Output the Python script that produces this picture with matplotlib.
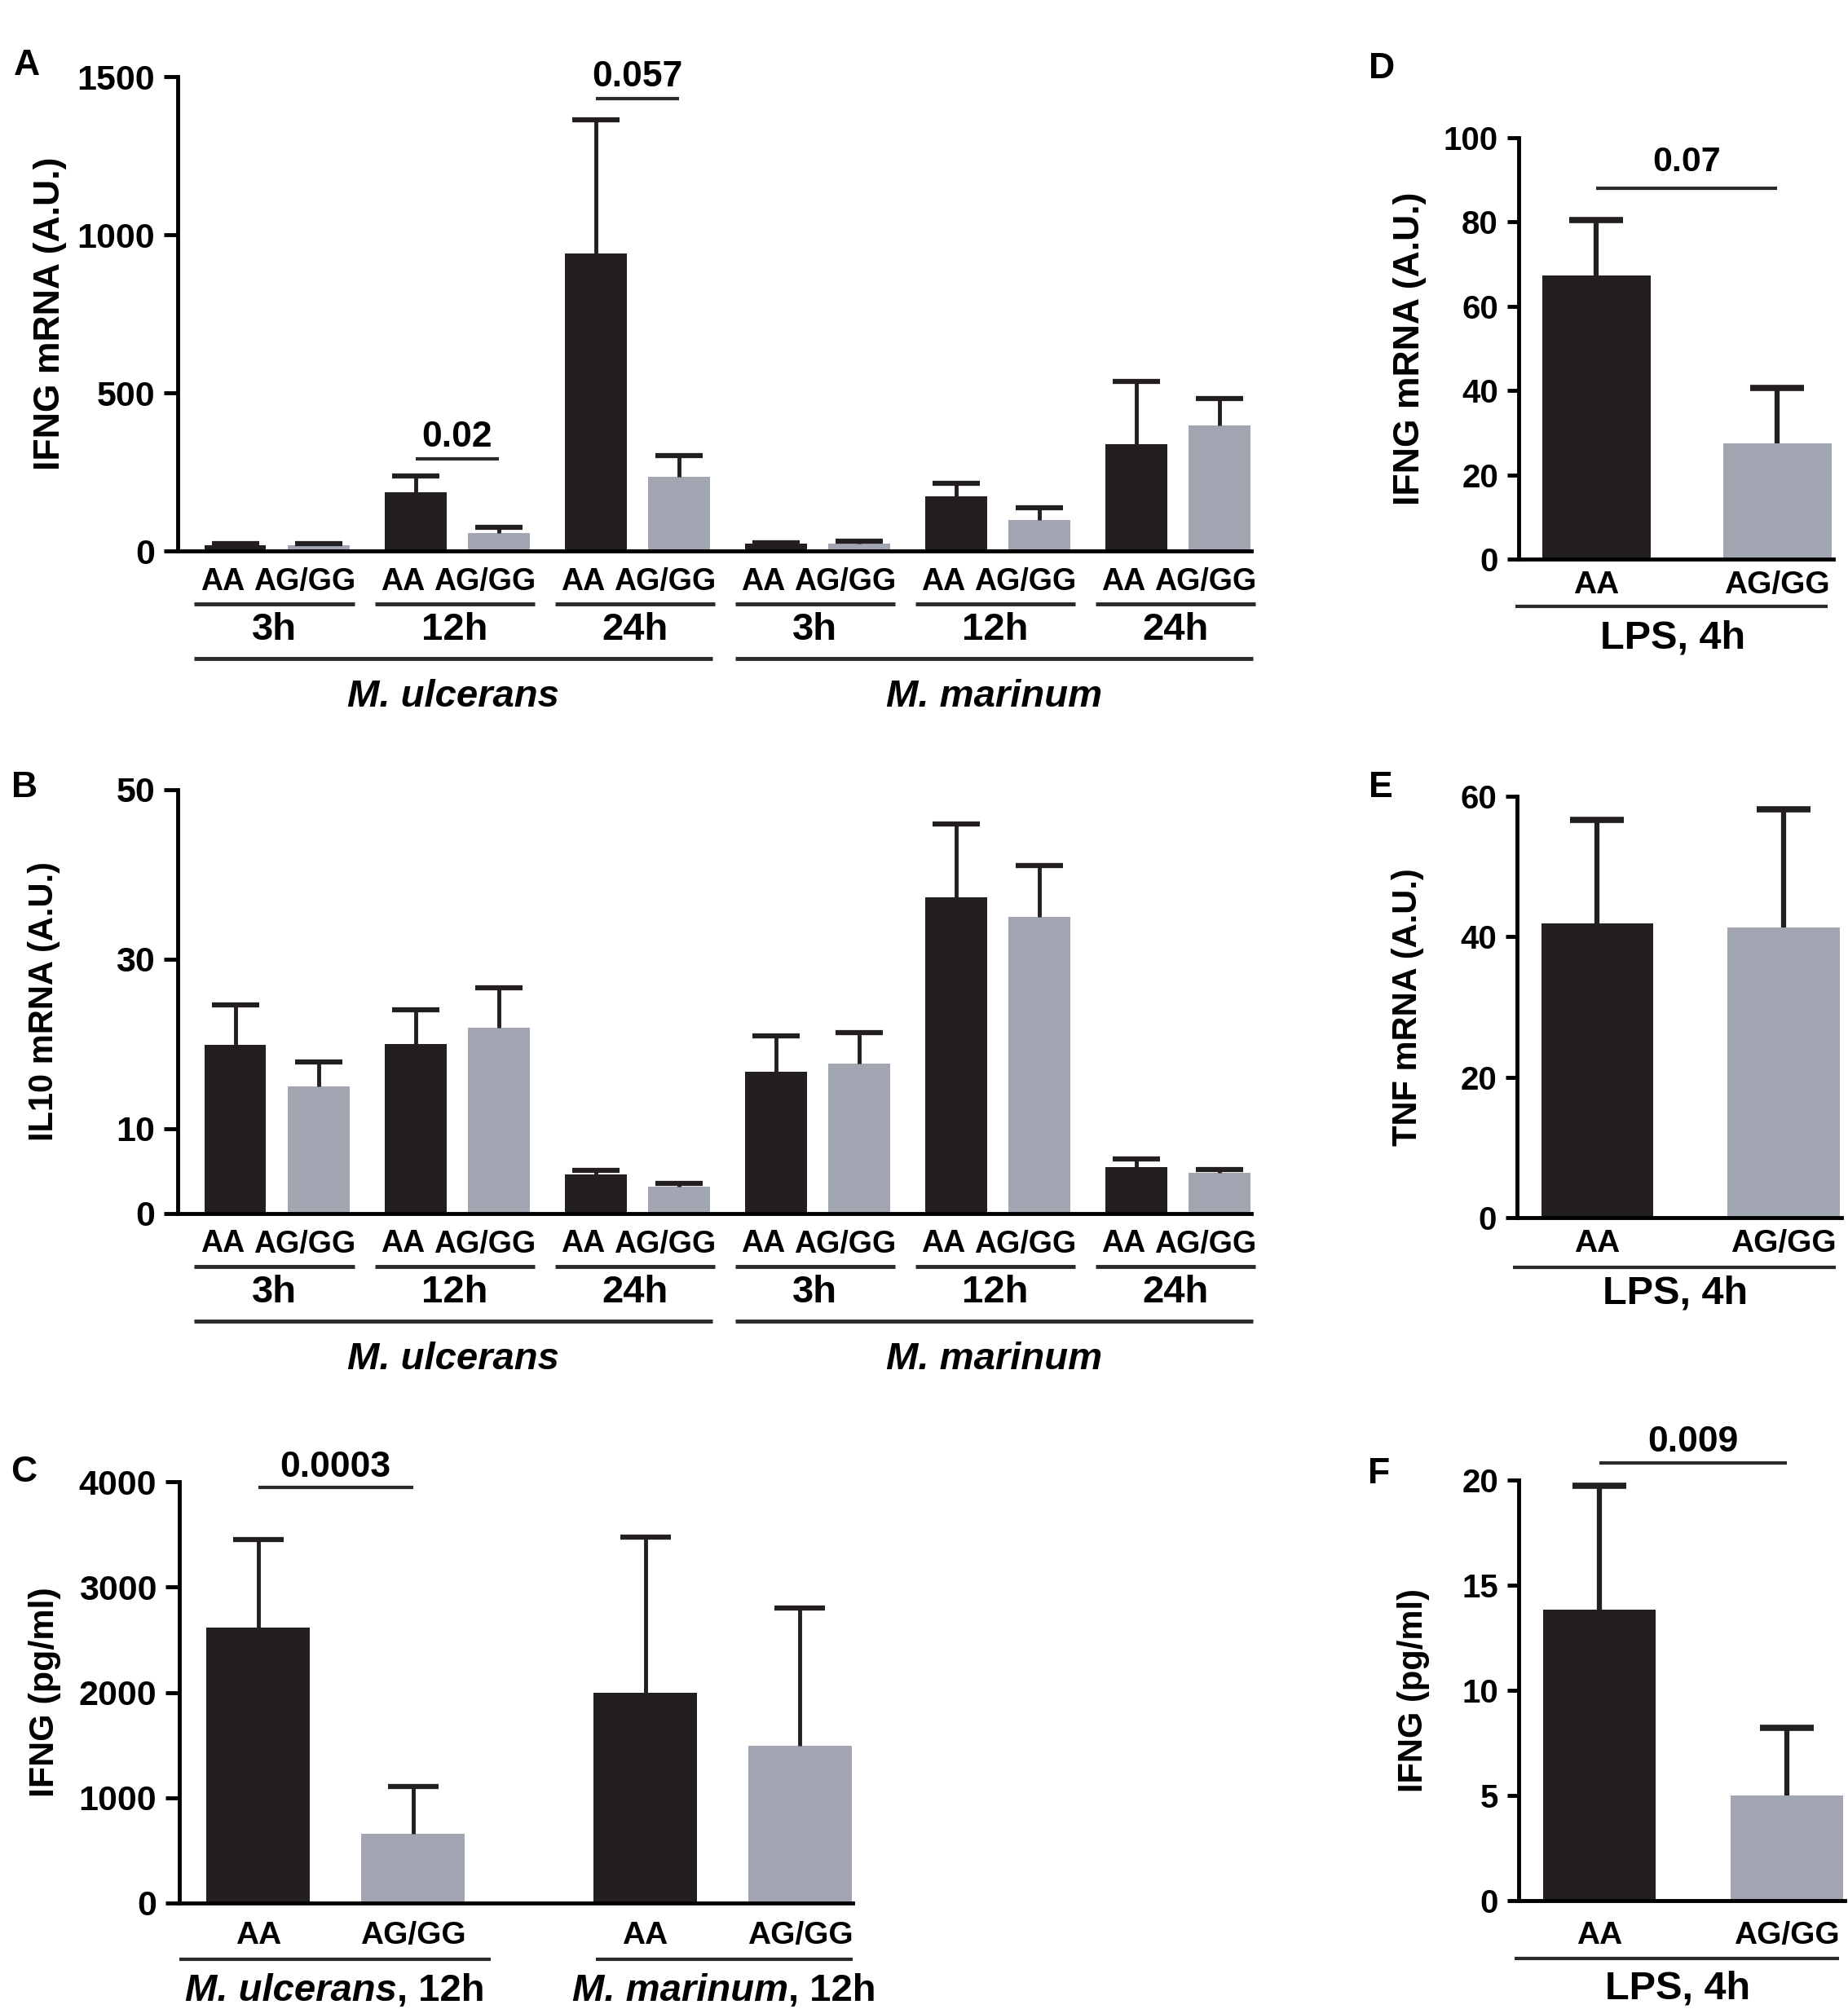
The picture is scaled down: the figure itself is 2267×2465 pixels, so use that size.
import matplotlib
matplotlib.use('Agg')
import matplotlib.pyplot as plt
from matplotlib import font_manager
from matplotlib.transforms import offset_copy
from matplotlib.offsetbox import TextArea, HPacker, AnnotationBbox


def has_font(name):
    try:
        font_manager.findfont(name, fallback_to_default=False)
        return True
    except ValueError:
        return False


FONT = 'Liberation Sans' if has_font('Liberation Sans') else 'DejaVu Sans'
plt.rcParams['font.family'] = [FONT, 'DejaVu Sans']
plt.rcParams['font.weight'] = 'bold'
plt.rcParams['axes.linewidth'] = 3.5

BLACK = '#231f20'
GRAY = '#a1a6b2'
LINE = '#2a2a2a'

# ---- data ----
genotypes = ['AA', 'AG/GG']
times = ['3h', '12h', '24h']
species = ['M. ulcerans', 'M. marinum']

# A: IFNG mRNA (A.U.), order Mu 3h/12h/24h then Mm 3h/12h/24h
ifng_mrna_aa = [19, 186, 942, 24, 173, 338]
ifng_mrna_aa_err = [3, 52, 421, 3, 41, 198]
ifng_mrna_ag = [19, 56, 235, 24, 98, 396]
ifng_mrna_ag_err = [3, 20, 67, 6, 39, 85]

# B: IL10 mRNA (A.U.)
il10_aa = [19.9, 20.0, 4.6, 16.7, 37.3, 5.5]
il10_aa_err = [4.7, 4.0, 0.5, 4.3, 8.7, 0.9]
il10_ag = [15.0, 21.9, 3.2, 17.7, 35.0, 4.8]
il10_ag_err = [2.9, 4.75, 0.4, 3.6, 6.1, 0.4]

# C: IFNG (pg/ml), 12h
c_groups = ['M. ulcerans', 'M. marinum']
ifng_prot_aa = [2616, 1998]
ifng_prot_aa_err = [834, 1479]
ifng_prot_ag = [656, 1490]
ifng_prot_ag_err = [451, 1308]

# D/E/F: LPS, 4h  (AA, AG/GG)
lps_ifng_mrna = [67.3, 27.5]
lps_ifng_mrna_err = [13.2, 13.2]
lps_tnf_mrna = [41.9, 41.35]
lps_tnf_mrna_err = [14.7, 16.85]
lps_ifng_prot = [13.85, 4.99]
lps_ifng_prot_err = [5.88, 3.23]

# p-values: (label, y of bar, group index in M. ulcerans)
p_a = [('0.02', 291, 1), ('0.057', 1430, 2)]
p_c = ('0.0003', 3946)
p_d = ('0.07', 88)
p_f = ('0.009', 20.8)

# ---- figure ----
W, H = 2267.0, 2465.0
fig = plt.figure(figsize=(W / 100, H / 100), dpi=100)


def make_axes(l, r, top, bot):
    ax = fig.add_axes([l / W, 1 - bot / H, (r - l) / W, (bot - top) / H])
    ax.spines['top'].set_visible(False)
    ax.spines['right'].set_visible(False)
    ax.tick_params(axis='x', length=0, labelbottom=False)
    ax.tick_params(axis='y', length=12, width=3.5, pad=8, labelsize=31)
    return ax


def below(ax, pts):
    return offset_copy(ax.get_xaxis_transform(), fig=fig, y=-pts, units='points')


def bars(ax, x, vals, errs, color, width, cap, elw, cth):
    ax.bar(x, vals, width, color=color, zorder=2)
    eb = ax.errorbar(x, vals, yerr=[[0] * len(vals), errs], fmt='none', ecolor=BLACK,
                     elinewidth=elw, capsize=cap, capthick=cth, zorder=3)
    # only the upper cap, like Prism
    eb[1][0].set_visible(False)


def sig(ax, x0, x1, y, label, gap, size=32):
    ax.plot([x0, x1], [y, y], color=LINE, lw=3, clip_on=False, solid_capstyle='butt')
    ax.annotate(label, ((x0 + x1) / 2, y), xytext=(0, gap), textcoords='offset points',
                ha='center', va='baseline', fontsize=size, fontweight='bold',
                annotation_clip=False)


def uline(ax, x0, x1, pts, lw=3.5):
    ax.plot([x0, x1], [0, 0], color=LINE, lw=lw, transform=below(ax, pts),
            clip_on=False, solid_capstyle='butt')


def grouped_panel(ax, aa, aa_err, ag, ag_err):
    step = 2.16
    xa = [g * step for g in range(6)]
    xg = [g * step + 1 for g in range(6)]
    bars(ax, xa, aa, aa_err, BLACK, 0.74, 21, 3.5, 4.5)
    bars(ax, xg, ag, ag_err, GRAY, 0.74, 21, 3.5, 4.5)
    ax.set_xlim(-0.69, 12.18)
    for g in range(6):
        ax.text(xa[g] - 0.15, 0, genotypes[0], transform=below(ax, 27), ha='center',
                va='center', fontsize=27)
        ax.text(xg[g] - 0.17, 0, genotypes[1], transform=below(ax, 27), ha='center',
                va='center', fontsize=27)
        uline(ax, xa[g] - 0.49, xg[g] + 0.43, 47)
        ax.text((xa[g] + xg[g]) / 2 - 0.03, 0, times[g % 3], transform=below(ax, 70),
                ha='center', va='center', fontsize=34)
    for s in range(2):
        x0 = xa[3 * s] - 0.49
        x1 = xg[3 * s + 2] + 0.4
        uline(ax, x0, x1, 95)
        ax.text((x0 + x1) / 2, 0, species[s], transform=below(ax, 129), ha='center',
                va='center', fontsize=34, fontstyle='italic')
    return xa, xg


# ---- A ----
axA = make_axes(218, 1535, 94, 676)
xa, xg = grouped_panel(axA, ifng_mrna_aa, ifng_mrna_aa_err, ifng_mrna_ag, ifng_mrna_ag_err)
axA.set_ylim(0, 1500)
axA.set_yticks([0, 500, 1000, 1500])
for label, y, g in p_a:
    sig(axA, xa[g], xg[g], y, label, 11)

# ---- B ----
axB = make_axes(218, 1535, 969, 1489)
grouped_panel(axB, il10_aa, il10_aa_err, il10_ag, il10_ag_err)
axB.set_ylim(0, 50)
axB.set_yticks([0, 10, 30, 50])

# ---- C ----
axC = make_axes(220, 1046, 1818, 2335)
xc_aa = [0, 2.5]
xc_ag = [1, 3.5]
bars(axC, xc_aa, ifng_prot_aa, ifng_prot_aa_err, BLACK, 0.67, 22, 3.5, 4.5)
bars(axC, xc_ag, ifng_prot_ag, ifng_prot_ag_err, GRAY, 0.67, 22, 3.5, 4.5)
axC.set_xlim(-0.51, 3.84)
axC.set_ylim(0, 4000)
axC.set_yticks([0, 1000, 2000, 3000, 4000])
sig(axC, xc_aa[0], xc_ag[0], p_c[1], p_c[0], 9)
for i in range(2):
    axC.text(xc_aa[i], 0, genotypes[0], transform=below(axC, 29), ha='center',
             va='center', fontsize=28)
    axC.text(xc_ag[i], 0, genotypes[1], transform=below(axC, 29), ha='center',
             va='center', fontsize=28)
    x0, x1 = xc_aa[i] - 0.51 + 0.19 * i, xc_ag[i] + 0.5 - 0.16 * i
    uline(axC, x0, x1, 50, lw=3)
    parts = HPacker(children=[
        TextArea(c_groups[i], textprops=dict(fontsize=34, fontweight='bold',
                                             fontstyle='italic')),
        TextArea(', 12h', textprops=dict(fontsize=34, fontweight='bold'))],
        align='baseline', pad=0, sep=0)
    ab = AnnotationBbox(parts, ((x0 + x1) / 2, 0), xycoords=axC.get_xaxis_transform(),
                        xybox=(0, -78), boxcoords='offset points', frameon=False,
                        box_alignment=(0.5, 0.5), annotation_clip=False)
    axC.add_artist(ab)


# ---- D, E, F ----
def lps_panel(ax, vals, errs, lab_pts, line_pts, title_pts):
    bars(ax, [0], vals[:1], errs[:1], BLACK, 0.6, 24, 4.5, 5.5)
    bars(ax, [1], vals[1:], errs[1:], GRAY, 0.6, 24, 4.5, 5.5)
    ax.set_xlim(-0.43, 1.31)
    ax.tick_params(axis='y', length=10, labelsize=29)
    for i, g in enumerate(genotypes):
        ax.text(i, 0, g, transform=below(ax, lab_pts), ha='center', va='center',
                fontsize=28)
    uline(ax, -0.45, 1.28, line_pts, lw=3)
    ax.text(0.42, 0, 'LPS, 4h', transform=below(ax, title_pts), ha='center',
            va='center', fontsize=35)


axD = make_axes(1863, 2249, 169, 686)
lps_panel(axD, lps_ifng_mrna, lps_ifng_mrna_err, 23, 42, 70)
axD.set_ylim(0, 100)
axD.set_yticks([0, 20, 40, 60, 80, 100])
sig(axD, 0, 1, p_d[1], p_d[0], 15, size=31)

axE = make_axes(1861, 2259, 977, 1494)
lps_panel(axE, lps_tnf_mrna, lps_tnf_mrna_err, 23, 44, 67)
axE.set_ylim(0, 60)
axE.set_yticks([0, 20, 40, 60])

axF = make_axes(1863, 2263, 1816, 2332)
lps_panel(axF, lps_ifng_prot, lps_ifng_prot_err, 31, 51, 78)
axF.set_ylim(0, 20)
axF.set_yticks([0, 5, 10, 15, 20])
sig(axF, 0, 1, p_f[1], p_f[0], 10, size=32)

# ---- y labels ----
ylabels = [
    (62, (94 + 676) / 2, 'IFNG mRNA (A.U.)', 32),
    (54, (969 + 1489) / 2, 'IL10 mRNA (A.U.)', 30),
    (55, (1818 + 2335) / 2, 'IFNG (pg/ml)', 31),
    (1729, (169 + 686) / 2, 'IFNG mRNA (A.U.)', 32),
    (1727, (977 + 1494) / 2, 'TNF mRNA (A.U.)', 30),
    (1734, (1816 + 2332) / 2, 'IFNG (pg/ml)', 30),
]
for x, y, txt, size in ylabels:
    fig.text(x / W, 1 - y / H, txt, rotation=90, ha='center', va='center',
             fontsize=size, fontweight='bold')

# ---- panel letters ----
letters = [('A', 33, 81), ('B', 30, 966), ('C', 29, 1806),
           ('D', 1695, 84), ('E', 1694, 967), ('F', 1692, 1808)]
for txt, x, y in letters:
    fig.text(x / W, 1 - y / H, txt, ha='center', va='center', fontsize=32,
             fontweight='bold')

fig.savefig('out.png', dpi=100)
